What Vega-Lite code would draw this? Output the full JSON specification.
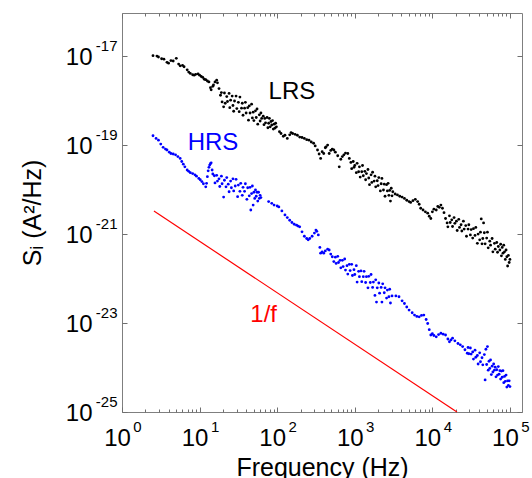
{
  "$schema": "https://vega.github.io/schema/vega-lite/v6.json",
  "width": 400,
  "height": 399,
  "autosize": "none",
  "padding": {"left": 122, "top": 13, "right": 10, "bottom": 66},
  "config": {
    "font": "Liberation Sans",
    "view": {"stroke": "#7f7f7f", "strokeWidth": 1},
    "axis": {
      "domain": false,
      "grid": false,
      "tickColor": "#6f6f6f",
      "tickWidth": 1,
      "labelColor": "#000000",
      "titleColor": "#000000",
      "titleFontWeight": "normal",
      "labelFlush": false,
      "labelOverlap": false,
      "labelBound": false
    }
  },
  "datasets": {
    "lrs": [
      {"f":2.51,"S":1.02e-17},{"f":2.82,"S":1.0e-17},{"f":2.95,"S":9.55e-18},{"f":3.24,"S":8.71e-18},{"f":3.47,"S":8.51e-18},
      {"f":3.80,"S":7.24e-18},{"f":3.98,"S":6.92e-18},{"f":4.27,"S":7.94e-18},{"f":4.57,"S":7.76e-18},{"f":5.01,"S":8.91e-18},
      {"f":5.37,"S":6.61e-18},{"f":5.62,"S":6.03e-18},{"f":6.03,"S":6.17e-18},{"f":6.31,"S":5.75e-18},{"f":6.92,"S":4.90e-18},
      {"f":7.24,"S":4.37e-18},{"f":7.59,"S":4.07e-18},{"f":8.13,"S":3.80e-18},{"f":8.51,"S":3.72e-18},{"f":8.91,"S":3.89e-18},
      {"f":9.55,"S":3.98e-18},{"f":10.0,"S":3.72e-18},{"f":10.5,"S":3.47e-18},{"f":11.0,"S":3.31e-18},{"f":11.5,"S":3.02e-18},
      {"f":12.0,"S":2.95e-18},{"f":12.6,"S":2.75e-18},{"f":13.2,"S":2.63e-18},{"f":13.8,"S":1.95e-18},{"f":14.1,"S":1.74e-18},
      {"f":14.8,"S":2.09e-18},{"f":15.1,"S":2.24e-18},{"f":15.8,"S":2.63e-18},{"f":16.6,"S":2.88e-18},{"f":17.0,"S":2.51e-18},
      {"f":17.8,"S":1.86e-18},{"f":18.6,"S":1.32e-18},{"f":19.1,"S":1.51e-18},{"f":19.5,"S":9.33e-19},{"f":20.4,"S":7.24e-19},
      {"f":20.9,"S":1.48e-18},{"f":21.4,"S":8.71e-19},{"f":22.4,"S":1.23e-18},{"f":22.9,"S":9.55e-19},{"f":24.0,"S":1.45e-18},
      {"f":24.5,"S":6.92e-19},{"f":25.1,"S":1.02e-18},{"f":26.3,"S":1.26e-18},{"f":26.9,"S":7.76e-19},{"f":27.5,"S":5.75e-19},
      {"f":28.2,"S":9.77e-19},{"f":29.5,"S":1.26e-18},{"f":30.2,"S":6.61e-19},{"f":31.6,"S":9.12e-19},{"f":32.4,"S":5.62e-19},
      {"f":33.1,"S":1.20e-18},{"f":34.7,"S":6.76e-19},{"f":35.5,"S":8.71e-19},{"f":36.3,"S":4.68e-19},{"f":38.0,"S":6.76e-19},
      {"f":38.9,"S":9.12e-19},{"f":39.8,"S":5.25e-19},{"f":41.7,"S":6.92e-19},{"f":42.7,"S":3.63e-19},{"f":43.7,"S":7.59e-19},
      {"f":44.7,"S":5.25e-19},{"f":46.8,"S":8.32e-19},{"f":47.9,"S":4.07e-19},{"f":49.0,"S":5.50e-19},{"f":50.1,"S":3.55e-19},
      {"f":52.5,"S":5.89e-19},{"f":53.7,"S":4.17e-19},{"f":55.0,"S":6.46e-19},{"f":56.2,"S":2.95e-19},{"f":58.9,"S":4.79e-19},
      {"f":60.3,"S":3.47e-19},{"f":61.7,"S":5.25e-19},{"f":63.1,"S":3.98e-19},{"f":66.1,"S":4.47e-19},{"f":67.6,"S":2.88e-19},
      {"f":69.2,"S":3.98e-19},{"f":70.8,"S":3.16e-19},{"f":74.1,"S":4.17e-19},{"f":75.9,"S":2.45e-19},{"f":77.6,"S":3.09e-19},
      {"f":79.4,"S":3.98e-19},{"f":81.3,"S":2.57e-19},{"f":83.2,"S":3.39e-19},{"f":85.1,"S":2.82e-19},{"f":87.1,"S":3.55e-19},
      {"f":89.1,"S":2.29e-19},{"f":91.2,"S":2.95e-19},{"f":93.3,"S":2.40e-19},{"f":95.5,"S":3.09e-19},{"f":97.7,"S":2.57e-19},
      {"f":107,"S":2.00e-19},{"f":112,"S":1.82e-19},{"f":120,"S":1.58e-19},{"f":126,"S":1.66e-19},{"f":135,"S":1.41e-19},
      {"f":145,"S":1.70e-19},{"f":151,"S":1.91e-19},{"f":158,"S":1.82e-19},{"f":170,"S":1.74e-19},{"f":182,"S":1.66e-19},
      {"f":195,"S":1.51e-19},{"f":209,"S":1.48e-19},{"f":224,"S":1.41e-19},{"f":240,"S":1.32e-19},{"f":257,"S":1.29e-19},
      {"f":275,"S":1.17e-19},{"f":295,"S":1.10e-19},{"f":309,"S":9.55e-20},{"f":331,"S":7.76e-20},{"f":347,"S":6.31e-20},
      {"f":363,"S":5.01e-20},{"f":380,"S":7.08e-20},{"f":398,"S":6.46e-20},{"f":417,"S":8.71e-20},{"f":427,"S":9.12e-20},
      {"f":447,"S":1.0e-19},{"f":468,"S":6.46e-20},{"f":490,"S":7.59e-20},{"f":513,"S":8.13e-20},{"f":537,"S":7.76e-20},
      {"f":562,"S":6.92e-20},{"f":603,"S":5.75e-20},{"f":631,"S":3.24e-20},{"f":661,"S":4.79e-20},{"f":692,"S":5.50e-20},
      {"f":724,"S":6.03e-20},{"f":759,"S":6.61e-20},{"f":813,"S":6.46e-20},{"f":851,"S":5.01e-20},
      {"f":891,"S":4.07e-20},{"f":912,"S":2.95e-20},{"f":955,"S":4.27e-20},{"f":977,"S":3.16e-20},{"f":1000,"S":3.47e-20},
      {"f":1047,"S":2.40e-20},{"f":1072,"S":3.89e-20},{"f":1122,"S":2.51e-20},{"f":1148,"S":3.24e-20},{"f":1175,"S":1.91e-20},
      {"f":1230,"S":2.51e-20},{"f":1259,"S":3.47e-20},{"f":1288,"S":2.04e-20},{"f":1349,"S":2.57e-20},{"f":1380,"S":1.66e-20},
      {"f":1413,"S":2.29e-20},{"f":1479,"S":2.82e-20},{"f":1514,"S":1.82e-20},{"f":1549,"S":1.29e-20},{"f":1622,"S":2.14e-20},
      {"f":1660,"S":1.45e-20},{"f":1698,"S":2.45e-20},{"f":1778,"S":1.55e-20},{"f":1820,"S":2.00e-20},{"f":1862,"S":1.15e-20},
      {"f":1950,"S":1.58e-20},{"f":1995,"S":1.23e-20},{"f":2042,"S":1.86e-20},{"f":2138,"S":9.33e-21},{"f":2188,"S":1.35e-20},
      {"f":2239,"S":1.78e-20},{"f":2344,"S":9.77e-21},{"f":2399,"S":1.32e-20},{"f":2455,"S":7.08e-21},{"f":2570,"S":1.29e-20},
      {"f":2630,"S":9.33e-21},{"f":2692,"S":1.38e-20},{"f":2754,"S":7.41e-21},{"f":2818,"S":9.55e-21},{"f":2884,"S":5.50e-21},
      {"f":2951,"S":1.07e-20},{"f":3020,"S":7.24e-21},{"f":3090,"S":8.91e-21},
      {"f":3311,"S":7.94e-21},{"f":3548,"S":7.59e-21},{"f":3802,"S":7.08e-21},{"f":4074,"S":6.76e-21},{"f":4365,"S":6.31e-21},
      {"f":4677,"S":5.75e-21},{"f":5012,"S":5.37e-21},{"f":5248,"S":5.13e-21},{"f":5623,"S":5.62e-21},{"f":6026,"S":6.03e-21},
      {"f":6457,"S":5.37e-21},{"f":6761,"S":4.68e-21},{"f":7079,"S":3.80e-21},{"f":7586,"S":3.47e-21},{"f":8128,"S":3.16e-21},
      {"f":8710,"S":2.95e-21},{"f":9120,"S":2.51e-21},{"f":9550,"S":2.24e-21},{"f":10000,"S":3.16e-21},{"f":10470,"S":3.63e-21},
      {"f":11220,"S":3.47e-21},{"f":11750,"S":4.17e-21},{"f":12300,"S":3.98e-21},{"f":12880,"S":4.47e-21},{"f":13490,"S":3.80e-21},
      {"f":14130,"S":3.02e-21},{"f":14790,"S":2.24e-21},{"f":15490,"S":1.78e-21},{"f":15850,"S":1.45e-21},
      {"f":16600,"S":2.57e-21},{"f":16980,"S":1.82e-21},{"f":17780,"S":2.09e-21},{"f":18200,"S":1.48e-21},{"f":19050,"S":2.34e-21},
      {"f":19500,"S":1.74e-21},{"f":20420,"S":1.95e-21},{"f":20890,"S":1.20e-21},{"f":21880,"S":2.14e-21},{"f":22390,"S":1.41e-21},
      {"f":23440,"S":1.62e-21},{"f":23990,"S":1.17e-21},{"f":25120,"S":1.95e-21},{"f":25700,"S":1.29e-21},{"f":26920,"S":1.55e-21},
      {"f":27540,"S":8.91e-22},{"f":28840,"S":1.29e-21},{"f":29510,"S":1.62e-21},{"f":30900,"S":9.55e-22},{"f":31620,"S":1.26e-21},
      {"f":33110,"S":8.13e-22},{"f":33880,"S":1.32e-21},{"f":35480,"S":9.33e-22},{"f":36310,"S":1.41e-21},{"f":38020,"S":6.17e-22},
      {"f":38900,"S":1.0e-21},{"f":40740,"S":7.41e-22},{"f":41690,"S":1.10e-21},{"f":42660,"S":2.19e-21},{"f":43650,"S":6.03e-22},
      {"f":44670,"S":7.94e-22},{"f":45710,"S":1.78e-21},{"f":46770,"S":1.07e-21},{"f":47860,"S":6.03e-22},{"f":50120,"S":8.13e-22},
      {"f":51290,"S":1.10e-21},{"f":52480,"S":4.90e-22},{"f":54950,"S":6.92e-22},{"f":56230,"S":5.62e-22},{"f":58880,"S":7.94e-22},
      {"f":60260,"S":3.98e-22},{"f":63100,"S":6.17e-22},{"f":64570,"S":4.57e-22},{"f":67610,"S":6.46e-22},{"f":69180,"S":3.89e-22},
      {"f":70790,"S":5.25e-22},{"f":74130,"S":4.37e-22},{"f":75860,"S":5.89e-22},{"f":77620,"S":3.24e-22},{"f":79430,"S":5.01e-22},
      {"f":81280,"S":3.72e-22},{"f":83180,"S":5.62e-22},{"f":85110,"S":3.98e-22},{"f":87100,"S":2.69e-22},{"f":89130,"S":4.37e-22},
      {"f":91200,"S":3.09e-22},{"f":93330,"S":1.91e-22},{"f":95500,"S":3.31e-22},{"f":97720,"S":2.29e-22},{"f":100000,"S":2.69e-22}
    ],
    "hrs": [
      {"f":2.51,"S":1.62e-19},{"f":2.75,"S":1.41e-19},{"f":2.95,"S":1.29e-19},{"f":3.16,"S":1.05e-19},{"f":3.39,"S":8.91e-20},
      {"f":3.63,"S":8.13e-20},{"f":3.80,"S":7.76e-20},{"f":4.07,"S":6.92e-20},{"f":4.27,"S":6.46e-20},{"f":4.57,"S":6.31e-20},
      {"f":4.90,"S":6.03e-20},{"f":5.25,"S":5.50e-20},{"f":5.62,"S":5.01e-20},{"f":5.89,"S":4.27e-20},{"f":6.17,"S":3.72e-20},
      {"f":6.46,"S":3.24e-20},{"f":6.92,"S":2.75e-20},{"f":7.24,"S":2.57e-20},{"f":7.59,"S":2.40e-20},{"f":8.13,"S":2.29e-20},
      {"f":8.71,"S":2.14e-20},{"f":9.12,"S":2.00e-20},{"f":9.77,"S":1.78e-20},{"f":10.2,"S":1.66e-20},{"f":10.7,"S":1.51e-20},
      {"f":11.2,"S":1.35e-20},{"f":12.0,"S":1.15e-20},{"f":12.3,"S":1.38e-20},{"f":12.6,"S":1.95e-20},{"f":12.9,"S":2.63e-20},
      {"f":13.2,"S":3.16e-20},{"f":13.5,"S":3.55e-20},{"f":13.8,"S":3.80e-20},{"f":14.1,"S":3.98e-20},{"f":14.5,"S":2.75e-20},
      {"f":14.8,"S":2.24e-20},
      {"f":15.5,"S":2.04e-20},{"f":15.8,"S":1.41e-20},{"f":16.6,"S":2.09e-20},{"f":17.0,"S":1.55e-20},{"f":17.8,"S":1.74e-20},
      {"f":18.2,"S":1.17e-20},{"f":19.1,"S":2.00e-20},{"f":19.5,"S":1.35e-20},{"f":20.4,"S":6.76e-21},{"f":20.9,"S":1.62e-20},
      {"f":21.9,"S":1.15e-20},{"f":22.4,"S":1.86e-20},{"f":23.4,"S":1.32e-20},{"f":24.0,"S":8.91e-21},{"f":25.1,"S":1.55e-20},
      {"f":25.7,"S":1.10e-20},{"f":26.9,"S":1.74e-20},{"f":27.5,"S":9.33e-21},{"f":28.8,"S":1.20e-20},{"f":29.5,"S":1.70e-20},
      {"f":30.9,"S":6.92e-21},{"f":31.6,"S":1.26e-20},{"f":33.1,"S":9.12e-21},{"f":33.9,"S":1.38e-20},{"f":35.5,"S":7.41e-21},
      {"f":36.3,"S":1.12e-20},{"f":38.0,"S":9.12e-21},{"f":38.9,"S":1.35e-20},{"f":40.7,"S":6.03e-21},{"f":41.7,"S":1.10e-20},
      {"f":43.7,"S":7.24e-21},{"f":44.7,"S":1.12e-20},{"f":45.7,"S":3.47e-21},{"f":46.8,"S":8.13e-21},{"f":47.9,"S":1.20e-20},
      {"f":49.0,"S":4.47e-21},{"f":50.1,"S":8.71e-21},{"f":51.3,"S":6.31e-21},{"f":52.5,"S":9.77e-21},{"f":53.7,"S":7.08e-21},
      {"f":55.0,"S":8.71e-21},{"f":56.2,"S":5.50e-21},{"f":57.5,"S":8.71e-21},{"f":58.9,"S":6.31e-21},{"f":60.3,"S":7.41e-21},
      {"f":61.7,"S":6.61e-21},
      {"f":77.6,"S":5.37e-21},{"f":85.1,"S":4.90e-21},{"f":91.2,"S":4.47e-21},{"f":100,"S":4.27e-21},{"f":105,"S":4.07e-21},
      {"f":115,"S":3.31e-21},{"f":126,"S":2.69e-21},{"f":135,"S":2.34e-21},{"f":145,"S":2.04e-21},{"f":155,"S":1.82e-21},
      {"f":166,"S":1.66e-21},{"f":178,"S":1.58e-21},{"f":186,"S":1.51e-21},{"f":195,"S":1.45e-21},{"f":209,"S":1.12e-21},
      {"f":224,"S":8.91e-22},{"f":240,"S":7.94e-22},{"f":251,"S":7.41e-22},{"f":263,"S":7.94e-22},{"f":282,"S":8.91e-22},
      {"f":302,"S":1.05e-21},{"f":316,"S":1.23e-21},{"f":324,"S":1.15e-21},{"f":339,"S":9.55e-22},{"f":355,"S":5.01e-22},
      {"f":363,"S":3.72e-22},{"f":380,"S":3.98e-22},{"f":398,"S":3.72e-22},{"f":417,"S":4.17e-22},{"f":447,"S":4.57e-22},
      {"f":468,"S":4.37e-22},{"f":490,"S":3.55e-22},{"f":513,"S":3.09e-22},{"f":537,"S":2.40e-22},
      {"f":562,"S":3.02e-22},{"f":575,"S":2.19e-22},{"f":603,"S":3.16e-22},{"f":617,"S":2.29e-22},{"f":646,"S":2.57e-22},
      {"f":661,"S":1.74e-22},{"f":692,"S":2.57e-22},{"f":708,"S":1.86e-22},{"f":741,"S":2.75e-22},{"f":759,"S":1.55e-22},
      {"f":794,"S":1.95e-22},{"f":813,"S":1.26e-22},{"f":851,"S":2.09e-22},{"f":871,"S":1.51e-22},{"f":912,"S":2.09e-22},
      {"f":933,"S":1.17e-22},{"f":977,"S":1.58e-22},{"f":1000,"S":1.23e-22},{"f":1047,"S":1.95e-22},{"f":1072,"S":8.32e-23},
      {"f":1122,"S":1.45e-22},{"f":1148,"S":1.10e-22},{"f":1202,"S":1.48e-22},{"f":1230,"S":8.51e-23},{"f":1288,"S":1.10e-22},
      {"f":1318,"S":1.45e-22},{"f":1380,"S":8.13e-23},{"f":1413,"S":1.10e-22},{"f":1479,"S":6.17e-23},{"f":1514,"S":1.12e-22},
      {"f":1585,"S":8.13e-23},{"f":1622,"S":1.23e-22},{"f":1698,"S":6.31e-23},{"f":1738,"S":8.32e-23},{"f":1820,"S":4.17e-23},
      {"f":1862,"S":9.33e-23},{"f":1905,"S":2.95e-23},{"f":1950,"S":6.17e-23},{"f":2042,"S":7.94e-23},{"f":2089,"S":4.68e-23},
      {"f":2188,"S":6.31e-23},{"f":2239,"S":2.95e-23},{"f":2291,"S":7.59e-23},{"f":2399,"S":4.79e-23},{"f":2455,"S":6.17e-23},
      {"f":2570,"S":3.63e-23},{"f":2630,"S":5.50e-23},{"f":2754,"S":3.89e-23},{"f":2818,"S":5.75e-23},{"f":2884,"S":2.82e-23},
      {"f":3020,"S":4.07e-23},
      {"f":3388,"S":4.07e-23},{"f":3715,"S":3.89e-23},{"f":4074,"S":3.16e-23},{"f":4365,"S":2.75e-23},{"f":4677,"S":2.29e-23},
      {"f":5012,"S":1.95e-23},{"f":5495,"S":1.70e-23},{"f":5888,"S":1.51e-23},{"f":6310,"S":1.41e-23},{"f":6761,"S":1.38e-23},
      {"f":7244,"S":1.48e-23},{"f":7762,"S":1.51e-23},{"f":8318,"S":1.20e-23},{"f":8710,"S":9.77e-24},{"f":9120,"S":7.08e-24},
      {"f":9550,"S":5.37e-24},{"f":10000,"S":5.75e-24},{"f":10470,"S":5.25e-24},{"f":11220,"S":4.90e-24},{"f":12020,"S":5.50e-24},
      {"f":12880,"S":5.89e-24},{"f":13800,"S":5.62e-24},{"f":14790,"S":5.37e-24},{"f":15850,"S":4.37e-24},{"f":16600,"S":3.80e-24},
      {"f":17380,"S":4.17e-24},{"f":18200,"S":4.57e-24},{"f":19500,"S":3.98e-24},{"f":21380,"S":3.47e-24},{"f":22910,"S":3.24e-24},
      {"f":24550,"S":2.95e-24},{"f":26300,"S":2.51e-24},{"f":28180,"S":2.09e-24},
      {"f":28840,"S":2.82e-24},{"f":29510,"S":2.04e-24},{"f":30900,"S":2.75e-24},{"f":31620,"S":2.00e-24},{"f":33110,"S":2.24e-24},
      {"f":33880,"S":1.55e-24},{"f":35480,"S":2.45e-24},{"f":36310,"S":1.70e-24},{"f":38020,"S":1.86e-24},{"f":38900,"S":1.20e-24},
      {"f":40740,"S":2.14e-24},{"f":41690,"S":1.35e-24},{"f":43650,"S":1.66e-24},{"f":44670,"S":1.15e-24},{"f":46770,"S":1.95e-24},
      {"f":47860,"S":5.25e-25},{"f":48980,"S":2.57e-24},{"f":50120,"S":1.17e-24},{"f":51290,"S":2.95e-24},{"f":52480,"S":8.71e-25},
      {"f":53700,"S":1.38e-24},{"f":54950,"S":9.55e-25},{"f":56230,"S":1.48e-24},{"f":57540,"S":6.92e-25},{"f":58880,"S":1.07e-24},
      {"f":60260,"S":7.94e-25},{"f":61660,"S":1.20e-24},{"f":63100,"S":8.71e-25},{"f":64570,"S":1.02e-24},{"f":66070,"S":6.17e-25},
      {"f":67610,"S":8.91e-25},{"f":69180,"S":6.76e-25},{"f":70790,"S":1.05e-24},{"f":72440,"S":7.08e-25},{"f":74130,"S":8.51e-25},
      {"f":75860,"S":5.50e-25},{"f":77620,"S":8.32e-25},{"f":79430,"S":6.03e-25},{"f":81280,"S":8.51e-25},{"f":83180,"S":4.57e-25},
      {"f":85110,"S":6.31e-25},{"f":87100,"S":4.90e-25},{"f":89130,"S":6.76e-25},{"f":91200,"S":3.63e-25},{"f":93330,"S":5.01e-25},
      {"f":95500,"S":3.98e-25},{"f":97720,"S":5.01e-25},{"f":100000,"S":3.72e-25}
    ],
    "fit": [
      {"f":2.58,"S":3.29e-21},
      {"f":20750,"S":1.0e-25}
    ]
  },
  "resolve": {"axis": {"x": "independent", "y": "independent"}},
  "layer": [
    {
      "data": {"name": "lrs"},
      "mark": {"type": "point", "filled": true, "size": 8, "opacity": 1, "color": "#000000"},
      "encoding": {
        "x": {
          "field": "f", "type": "quantitative",
          "scale": {"type": "log", "domain": [1, 143000], "nice": false},
          "axis": {
            "orient": "bottom",
            "values": [1, 10, 100, 1000, 10000, 100000],
            "labelExpr": "'10'",
            "ticks": false, "tickSize": 0,
            "labelFontSize": 24, "labelOffset": -5, "labelPadding": 14,
            "title": "Frequency (Hz)", "titleFontSize": 25, "titlePadding": 5
          }
        },
        "y": {
          "field": "S", "type": "quantitative",
          "scale": {"type": "log", "domain": [1e-25, 9.3e-17], "nice": false},
          "axis": {
            "orient": "left",
            "values": [1e-17, 1e-19, 1e-21, 1e-23, 1e-25],
            "labelExpr": "'10'",
            "ticks": false, "tickSize": 0,
            "labelFontSize": 24, "labelPadding": 30, "labelOffset": 1,
            "title": "S\u1d62 (A\u00b2/Hz)", "titleFontSize": 25, "titlePadding": 20
          }
        }
      }
    },
    {
      "data": {"name": "hrs"},
      "mark": {"type": "point", "filled": true, "size": 8, "opacity": 1, "color": "#0000ff"},
      "encoding": {
        "x": {
          "field": "f", "type": "quantitative",
          "scale": {"type": "log", "domain": [1, 143000], "nice": false},
          "axis": {
            "orient": "bottom",
            "values": [1, 10, 100, 1000, 10000, 100000],
            "labelExpr": "round(log(datum.value) / LN10) + ''",
            "ticks": false, "tickSize": 0,
            "labelFontSize": 15, "labelOffset": 15, "labelPadding": 7,
            "title": null
          }
        },
        "y": {
          "field": "S", "type": "quantitative",
          "scale": {"type": "log", "domain": [1e-25, 9.3e-17], "nice": false},
          "axis": {
            "orient": "left",
            "values": [1e-17, 1e-19, 1e-21, 1e-23, 1e-25],
            "labelExpr": "round(log(datum.value) / LN10) + ''",
            "ticks": false, "tickSize": 0,
            "labelFontSize": 15, "labelPadding": 5, "labelOffset": -11,
            "title": null
          }
        }
      }
    },
    {
      "data": {"name": "fit"},
      "mark": {"type": "line", "color": "#ff0000", "strokeWidth": 1.2},
      "encoding": {
        "x": {
          "field": "f", "type": "quantitative",
          "scale": {"type": "log", "domain": [1, 143000], "nice": false},
          "axis": {
            "orient": "top", "offset": -399,
            "values": [1, 10, 100, 1000, 10000, 100000],
            "labels": false, "tickSize": 5, "title": null
          }
        },
        "y": {
          "field": "S", "type": "quantitative",
          "scale": {"type": "log", "domain": [1e-25, 9.3e-17], "nice": false},
          "axis": {
            "orient": "right", "offset": -400,
            "values": [1e-17, 1e-19, 1e-21, 1e-23, 1e-25],
            "labels": false, "tickSize": 5, "title": null
          }
        }
      }
    },
    {
      "data": {"values": [{"f": 155, "S": 1.55e-18, "t": "LRS"}]},
      "mark": {"type": "text", "fontSize": 24, "color": "#000000", "align": "center", "baseline": "middle"},
      "encoding": {
        "text": {"field": "t"},
        "x": {
          "field": "f", "type": "quantitative",
          "scale": {"type": "log", "domain": [1, 143000], "nice": false},
          "axis": {
            "orient": "top", "offset": -399,
            "values": [2,3,4,5,6,7,8,9,20,30,40,50,60,70,80,90,200,300,400,500,600,700,800,900,2000,3000,4000,5000,6000,7000,8000,9000,20000,30000,40000,50000,60000,70000,80000,90000],
            "labels": false, "tickSize": 3, "title": null
          }
        },
        "y": {
          "field": "S", "type": "quantitative",
          "scale": {"type": "log", "domain": [1e-25, 9.3e-17], "nice": false},
          "axis": {
            "orient": "left", "offset": -400,
            "values": [1e-17, 1e-19, 1e-21, 1e-23, 1e-25],
            "labels": false, "tickSize": 5, "title": null
          }
        }
      }
    },
    {
      "data": {"values": [{"f": 14.9, "S": 1.11e-19, "t": "HRS"}]},
      "mark": {"type": "text", "fontSize": 24, "color": "#0000ff", "align": "center", "baseline": "middle"},
      "encoding": {
        "text": {"field": "t"},
        "x": {
          "field": "f", "type": "quantitative",
          "scale": {"type": "log", "domain": [1, 143000], "nice": false},
          "axis": {
            "orient": "bottom", "offset": -399,
            "values": [1, 10, 100, 1000, 10000, 100000],
            "labels": false, "tickSize": 5, "title": null
          }
        },
        "y": {
          "field": "S", "type": "quantitative",
          "scale": {"type": "log", "domain": [1e-25, 9.3e-17], "nice": false},
          "axis": null
        }
      }
    },
    {
      "data": {"values": [{"f": 67, "S": 1.50e-23, "t": "1/f"}]},
      "mark": {"type": "text", "fontSize": 24, "color": "#ff0000", "align": "center", "baseline": "middle"},
      "encoding": {
        "text": {"field": "t"},
        "x": {
          "field": "f", "type": "quantitative",
          "scale": {"type": "log", "domain": [1, 143000], "nice": false},
          "axis": {
            "orient": "bottom", "offset": -399,
            "values": [2,3,4,5,6,7,8,9,20,30,40,50,60,70,80,90,200,300,400,500,600,700,800,900,2000,3000,4000,5000,6000,7000,8000,9000,20000,30000,40000,50000,60000,70000,80000,90000],
            "labels": false, "tickSize": 3, "title": null
          }
        },
        "y": {
          "field": "S", "type": "quantitative",
          "scale": {"type": "log", "domain": [1e-25, 9.3e-17], "nice": false},
          "axis": null
        }
      }
    }
  ]
}
